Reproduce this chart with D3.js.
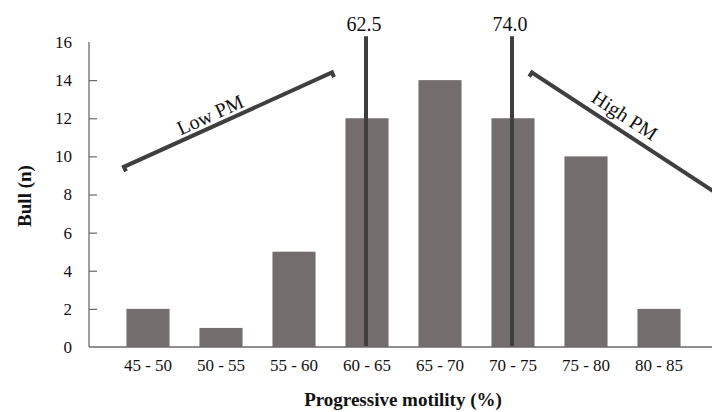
<!DOCTYPE html>
<html>
<head>
<meta charset="utf-8">
<script src="https://cdn.jsdelivr.net/npm/d3@7"></script>
<style>
  html, body { margin: 0; padding: 0; background: #fff; }
  svg { display: block; }
  text { font-family: "Liberation Serif", "Times New Roman", serif; fill: #111; }
</style>
</head>
<body>
<svg id="chart" width="712" height="412"></svg>
<script>
// ---- data ----
const categories = ["45 - 50", "50 - 55", "55 - 60", "60 - 65", "65 - 70", "70 - 75", "75 - 80", "80 - 85"];
const bullCounts = [2, 1, 5, 12, 14, 12, 10, 2];
const yTicks = [0, 2, 4, 6, 8, 10, 12, 14, 16];
// reference lines: label, bin where drawn, value extent
const refLabels = ["62.5", "74.0"];
const refBins = ["60 - 65", "70 - 75"];
const refExtent = [0, 16.3];
// annotation brackets in (category-index, count) units
const lowPM = [[-0.33, 9.45], [2.52, 14.4]];
const highPM = [[5.26, 14.4], [7.85, 7.9]];

// ---- layout ----
const svg = d3.select("#chart");
const axisX0 = 89, axisX1 = 712;
const y = d3.scaleLinear().domain([0, 16]).range([347, 42]);
const x = d3.scaleBand().domain(categories).range([111.5, 695.5])
  .paddingInner(0.41).paddingOuter(0.205);
const step = x.step();
const xi = d3.scaleLinear().domain([0, 1]).range([x(categories[0]) + x.bandwidth() / 2, x(categories[0]) + x.bandwidth() / 2 + step]);

// bars
svg.append("g").selectAll("rect").data(bullCounts).join("rect")
  .attr("x", (d, i) => x(categories[i]))
  .attr("y", d => y(d))
  .attr("width", x.bandwidth())
  .attr("height", d => y(0) - y(d))
  .attr("fill", "#736e6d");

// y axis
const yAxis = d3.axisRight(y).tickValues(yTicks.filter(t => t > 0 && t < 16)).tickSize(8).tickFormat("");
const gy = svg.append("g").attr("transform", `translate(${axisX0},0)`).call(yAxis);
gy.select(".domain").remove();
gy.selectAll(".tick line").attr("stroke", "#6a6a6a").attr("stroke-width", 1.2);
svg.append("line").attr("x1", axisX0).attr("x2", axisX0).attr("y1", y(16)).attr("y2", y(0))
  .attr("stroke", "#6a6a6a").attr("stroke-width", 1.3);
svg.append("g").selectAll("text").data(yTicks).join("text")
  .attr("x", 72).attr("y", d => y(d)).attr("dy", "0.35em")
  .attr("text-anchor", "end").attr("font-size", 17).text(d => d);

// x axis
svg.append("line").attr("x1", axisX0).attr("x2", axisX1).attr("y1", y(0)).attr("y2", y(0))
  .attr("stroke", "#6a6a6a").attr("stroke-width", 1.3);
const xAxis = d3.axisBottom(x).tickSize(0).tickPadding(0);
const gx = svg.append("g").attr("transform", `translate(0,${y(0)})`).call(xAxis);
gx.select(".domain").remove();
gx.selectAll(".tick text").attr("y", 24).attr("dy", 0).attr("font-size", 17)
  .attr("font-family", "Liberation Serif, serif").attr("fill", "#111");

// reference lines
refBins.forEach((b, i) => {
  const cx = x(b) + x.bandwidth() / 2 - 1;
  svg.append("line").attr("x1", cx).attr("x2", cx)
    .attr("y1", y(refExtent[1])).attr("y2", y(refExtent[0]) - 1)
    .attr("stroke", "#3f3f3f").attr("stroke-width", 4);
  svg.append("text").attr("x", cx - 2).attr("y", 31).attr("text-anchor", "middle")
    .attr("font-size", 20).text(refLabels[i]);
});

// annotation brackets
function bracket(pts, label) {
  const p0 = [xi(pts[0][0]), y(pts[0][1])];
  const p1 = [xi(pts[1][0]), y(pts[1][1])];
  const ang = Math.atan2(p1[1] - p0[1], p1[0] - p0[0]);
  const nx = -Math.sin(ang), ny = Math.cos(ang); // perpendicular (downwards side)
  const hook = 5;
  const g = svg.append("g");
  g.append("path")
    .attr("d", `M${p0[0] + nx * hook},${p0[1] + ny * hook}L${p0[0]},${p0[1]}L${p1[0]},${p1[1]}` +
      (label === "Low PM" ? `L${p1[0] + nx * hook},${p1[1] + ny * hook}` : ""))
    .attr("fill", "none").attr("stroke", "#3f3f3f").attr("stroke-width", 4)
    .attr("stroke-linejoin", "miter");
  const mx = (p0[0] + p1[0]) / 2, my = (p0[1] + p1[1]) / 2;
  const deg = ang * 180 / Math.PI;
  return { g, mx, my, deg };
}
const lo = bracket(lowPM, "Low PM");
svg.append("text").attr("transform", `translate(${213},${121}) rotate(${lo.deg})`)
  .attr("text-anchor", "middle").attr("font-size", 20).text("Low PM");
const hi = bracket(highPM, "High PM");
svg.append("text").attr("transform", `translate(${621},${121}) rotate(${hi.deg})`)
  .attr("text-anchor", "middle").attr("font-size", 20).text("High PM");

// axis titles
svg.append("text").attr("transform", `translate(31,196) rotate(-90)`)
  .attr("text-anchor", "middle").attr("font-size", 19).attr("font-weight", "bold").text("Bull (n)");
svg.append("text").attr("x", 403).attr("y", 406)
  .attr("text-anchor", "middle").attr("font-size", 19).attr("font-weight", "bold").text("Progressive motility (%)");
</script>
</body>
</html>
